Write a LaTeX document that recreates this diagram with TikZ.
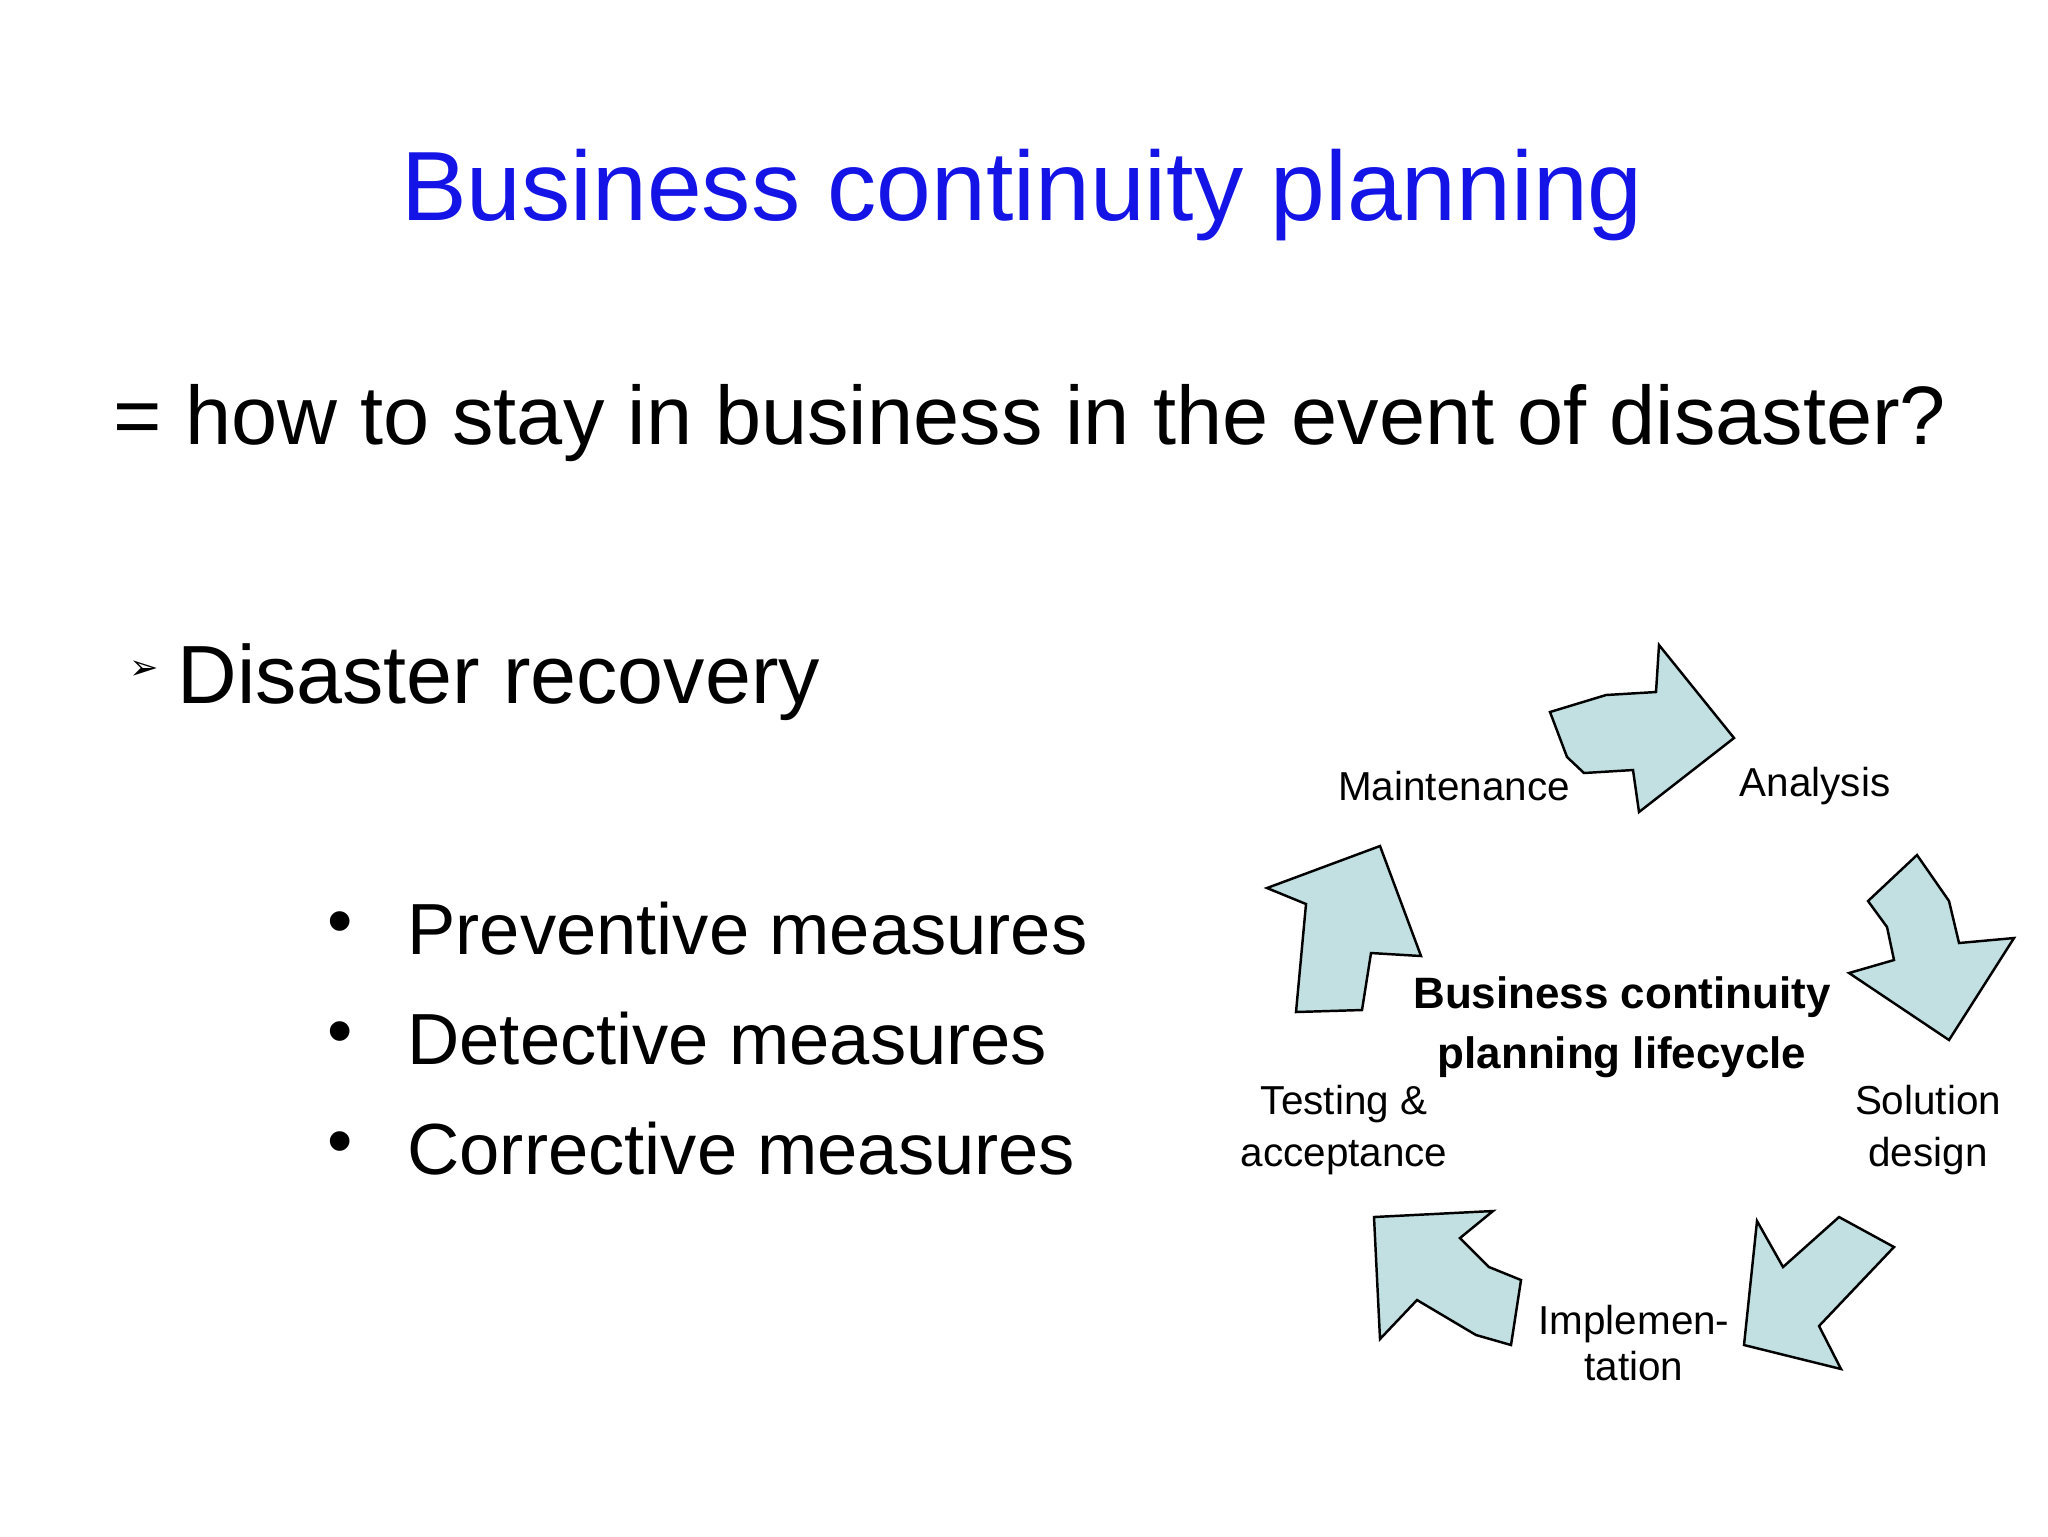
\documentclass[tikz,border=0pt]{standalone}
\usepackage{fontspec}
\setmainfont{Liberation Sans}
\newfontfamily\dv{DejaVu Sans}
\begin{document}
\begin{tikzpicture}[x=0.1mm,y=-0.1mm,
  arr/.style={draw=black,line width=0.7pt,fill={rgb,255:red,194;green,224;blue,226}},
  lab/.style={font=\fontsize{11.5}{14}\selectfont,align=center,inner sep=0pt}]
\useasboundingbox (0,0) rectangle (2048,1536);
\node[text={rgb,255:red,20;green,20;blue,230},font=\fontsize{28}{34}\selectfont] (title) at (1022,195) {Business continuity planning};
\node[font=\fontsize{23.6}{28}\selectfont] (def) at (1030,423) {= how to stay in business in the event of disaster?};
\node[font=\fontsize{10}{12}\selectfont\dv] (ab) at (144,670) {➢};
\node[font=\fontsize{23.5}{28}\selectfont,anchor=west] (dr) at (165,682) {Disaster recovery};
\foreach \t/\y [count=\i] in {Preventive measures/929,Detective measures/1039,Corrective measures/1149}{
  \node[font=\fontsize{20.6}{24}\selectfont] (b\i) at (340,\y) {•};
  \node[font=\fontsize{20.6}{24}\selectfont,anchor=west] (t\i) at (395,\y) {\t};
}
\draw[arr] (1550,712)--(1567,757)--(1584,773)--(1633,770)--(1639,812)--(1734,738)--(1659,645)--(1656,692)--(1606,695)--cycle;
\draw[arr] (1868,901)--(1887,927)--(1894,960)--(1849,973)--(1949,1040)--(2014,938)--(1959,943)--(1949,901)--(1917,855)--cycle;
\draw[arr] (1757,1221)--(1744,1345)--(1841,1369)--(1819,1326)--(1894,1247)--(1839,1217)--(1783,1267)--cycle;
\draw[arr] (1374,1217)--(1380,1339)--(1417,1300)--(1476,1335)--(1511,1345)--(1521,1280)--(1489,1267)--(1460,1238)--(1493,1211)--cycle;
\draw[arr] (1296,1012)--(1362,1010)--(1371,953)--(1421,956)--(1380,846)--(1267,888)--(1306,904)--cycle;
\node[lab] (m) at (1454,786) {Maintenance};
\node[lab] (a) at (1815,786) {Analysis};
\node[lab,font=\fontsize{12.5}{17}\selectfont\bfseries] (c) at (1622,1027) {Business continuity\\planning lifecycle};
\node[lab,font=\fontsize{11.5}{15}\selectfont] (ts) at (1344,1130) {Testing \&\\acceptance};
\node[lab,font=\fontsize{11.5}{15}\selectfont] (s) at (1928,1130) {Solution\\design};
\node[lab,font=\fontsize{11.5}{13}\selectfont] (i) at (1634,1343) {Implemen-\\tation};
\end{tikzpicture}
\end{document}
